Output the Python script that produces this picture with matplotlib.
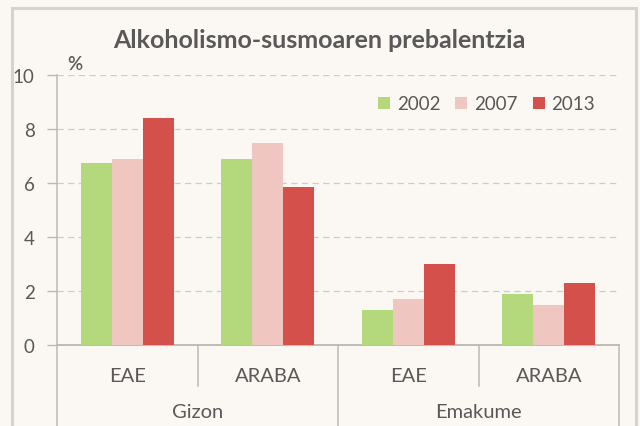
import matplotlib
matplotlib.use("Agg")
import matplotlib.pyplot as plt
import matplotlib.patches as mpatches
import matplotlib.transforms as mtransforms
import numpy as np

# ---- data ----
groups = ["Gizon", "Emakume"]
subcats = ["EAE", "ARABA", "EAE", "ARABA"]
years = ["2002", "2007", "2013"]
v2002 = [6.75, 6.9, 1.28, 1.9]
v2007 = [6.9, 7.5, 1.7, 1.47]
v2013 = [8.4, 5.85, 3.0, 2.3]
yticks = [0, 2, 4, 6, 8, 10]

colors = ["#b4d87c", "#efc6c0", "#d4504a"]
bg = "#fbf7f2"
txt = "#595959"
axis_col = "#bdb9b3"

plt.rcParams['font.family'] = ['Lato', 'DejaVu Sans']

W, H = 640, 427
fig = plt.figure(figsize=(W / 100, H / 100), dpi=100, facecolor=bg)

# outer border
fig.patches.append(mpatches.Rectangle((12 / W, -0.05), (636 - 12) / W, (H - 9) / H + 0.05,
                                      transform=fig.transFigure, fill=False,
                                      edgecolor="#d6d2cc", linewidth=2.2))

x0, x1, y0, y1 = 57, 619, 346, 76
ax = fig.add_axes([x0 / W, 1 - y0 / H, (x1 - x0) / W, (y0 - y1) / H])
ax.set_facecolor(bg)

x = np.arange(len(subcats))
bw = 0.22
for i, (vals, c, lab) in enumerate(zip([v2002, v2007, v2013], colors, years)):
    ax.bar(x + (i - 1) * bw, vals, bw, color=c, label=lab, zorder=3)

ax.set_xlim(-0.5, len(subcats) - 0.5)
ax.set_ylim(0, 10)
ax.set_yticks(yticks)
ax.set_yticklabels([str(t) for t in yticks])
ax.yaxis.grid(True, linestyle=(0, (5, 3.5)), color="#cfcbc5", linewidth=0.9, zorder=0)
ax.tick_params(axis='y', length=7, width=1, color=axis_col, labelsize=13.5,
               labelcolor=txt, pad=9)
ax.set_xticks(x)
ax.set_xticklabels(subcats)
ax.tick_params(axis='x', length=0, labelsize=14.5, labelcolor=txt, pad=16)
for s in ["top", "right"]:
    ax.spines[s].set_visible(False)
for s in ["left", "bottom"]:
    ax.spines[s].set_color(axis_col)
    ax.spines[s].set_linewidth(1.1)

# two-level category separators
trans = mtransforms.blended_transform_factory(ax.transData, ax.transAxes)
short = -41 / (y0 - y1)
long_ = -0.35
for xb in [0.5, 2.5]:
    ax.plot([xb, xb], [0, short], transform=trans, color=axis_col, lw=1.1, clip_on=False)
for xb in [-0.5, 1.5, 3.5]:
    ax.plot([xb, xb], [0, long_], transform=trans, color=axis_col, lw=1.1, clip_on=False)
ax.plot([-0.5, 3.5], [0, 0], transform=trans, color=axis_col, lw=1.1, clip_on=False)

for gi, g in enumerate(groups):
    ax.text(gi * 2 + 0.5, -67 / (y0 - y1), g, transform=trans, ha='center', va='center',
            fontsize=14.5, color=txt)

# title and unit
fig.text(319 / W, 1 - 41 / H, "Alkoholismo-susmoaren prebalentzia", ha='center', va='center',
         fontsize=18, fontweight='bold', color=txt)
fig.text(75 / W, 1 - 65 / H, "%", ha='center', va='center', fontsize=13.5,
         fontweight='semibold', color=txt)

leg = ax.legend(loc='center left', bbox_to_anchor=(378 / W, 1 - 105 / H),
                bbox_transform=fig.transFigure, ncol=3, frameon=False,
                fontsize=13.5, handlelength=0.65, handleheight=0.65, handletextpad=0.35,
                columnspacing=0.8, borderpad=0, borderaxespad=0)
for t in leg.get_texts():
    t.set_color(txt)

fig.savefig("out.png", dpi=100, facecolor=bg)
